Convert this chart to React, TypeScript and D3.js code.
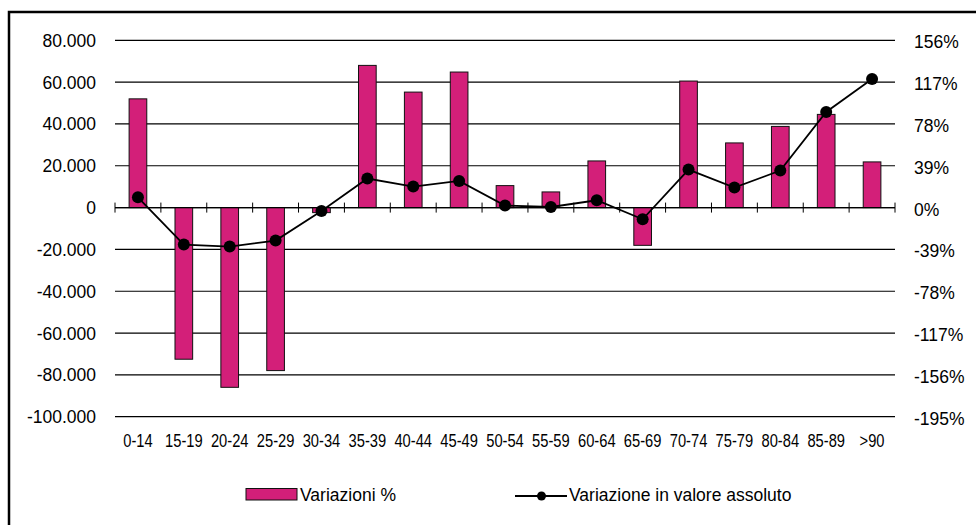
import * as d3 from "d3";

// age groups
const categories = [
  "0-14", "15-19", "20-24", "25-29", "30-34", "35-39", "40-44", "45-49",
  "50-54", "55-59", "60-64", "65-69", "70-74", "75-79", "80-84", "85-89", ">90",
];

// bars: percentage change (right axis)
const variazioniPct = [
  101.4, -141.4, -167.6, -152, -4.7, 132.6, 107.7, 126.4,
  20.5, 14.6, 43.5, -35.2, 118, 60.3, 75.7, 86.9, 42.6,
];

// line: absolute change (left axis)
const variazioneAssoluta = [
  4930, -17700, -18660, -15790, -1630, 13880, 10050, 12730,
  960, 290, 3490, -5600, 18180, 9570, 17700, 45740, 61540,
];

const leftTicks = [-100000, -80000, -60000, -40000, -20000, 0, 20000, 40000, 60000, 80000];
const rightTicks = [-195, -156, -117, -78, -39, 0, 39, 78, 117, 156];

const FONT = "'Liberation Sans', Arial, sans-serif";
const BAR = "#D31F79";

const itLocale = d3.formatLocale({
  decimal: ",",
  thousands: ".",
  grouping: [3],
  currency: ["", "€"],
  minus: "-",
});
const fmtThousands = itLocale.format(",");

export default function App() {
  const width = 976;
  const height = 525;
  const plot = { left: 115, right: 895, top: 40.3, bottom: 416.7 };

  const x = d3
    .scaleBand<string>()
    .domain(categories)
    .range([plot.left, plot.right])
    .padding(0);
  const yLeft = d3
    .scaleLinear()
    .domain([-100000, 80000])
    .range([plot.bottom, plot.top]);
  const yRight = d3
    .scaleLinear()
    .domain([-195, 156])
    .range([plot.bottom, plot.top]);

  const bw = x.bandwidth();
  const barW = bw * 0.385;
  const zeroY = yLeft(0);

  const line = d3
    .line<number>()
    .x((_, i) => x(categories[i])! + bw / 2)
    .y((d) => yLeft(d));

  // band boundaries for tick marks on the zero line
  const boundaries = categories.map((c) => x(c)!).concat([plot.right]);

  return (
    <svg
      width={width}
      height={height}
      style={{ position: "absolute", left: 0, top: 0, display: "block" }}
      fontFamily={FONT}
    >
      <rect x={0} y={0} width={width} height={height} fill="#fff" />
      {/* outer frame */}
      <rect
        x={9}
        y={12}
        width={width + 20}
        height={height + 20}
        fill="none"
        stroke="#000"
        strokeWidth={2.5}
      />

      {/* gridlines */}
      {leftTicks.map((t) => (
        <line
          key={"g" + t}
          x1={plot.left}
          x2={plot.right}
          y1={yLeft(t)}
          y2={yLeft(t)}
          stroke="#000"
          strokeWidth={1.2}
        />
      ))}

      {/* left axis labels */}
      {leftTicks.map((t) => (
        <text
          key={"l" + t}
          x={96}
          y={yLeft(t) + 6.5}
          textAnchor="end"
          fontSize={17.5}
          fill="#000"
        >
          {fmtThousands(t)}
        </text>
      ))}

      {/* right axis labels */}
      {rightTicks.map((t) => (
        <text
          key={"r" + t}
          x={914}
          y={yRight(t) + 8}
          textAnchor="start"
          fontSize={17.5}
          fill="#000"
        >
          {t + "%"}
        </text>
      ))}

      {/* bars */}
      {variazioniPct.map((v, i) => {
        const cx = x(categories[i])! + bw / 2;
        const y0 = yRight(0);
        const y1 = yRight(v);
        return (
          <rect
            key={"b" + i}
            x={cx - barW / 2}
            y={Math.min(y0, y1)}
            width={barW}
            height={Math.abs(y1 - y0)}
            fill={BAR}
            stroke="#111"
            strokeWidth={1}
          />
        );
      })}

      {/* zero axis with cross ticks */}
      <line x1={plot.left} x2={plot.right} y1={zeroY} y2={zeroY} stroke="#000" strokeWidth={1.2} />
      {boundaries.map((bx, i) => (
        <line
          key={"t" + i}
          x1={bx}
          x2={bx}
          y1={zeroY - 5}
          y2={zeroY + 5}
          stroke="#000"
          strokeWidth={1}
        />
      ))}

      {/* line series */}
      <path d={line(variazioneAssoluta)!} fill="none" stroke="#000" strokeWidth={1.8} />
      {variazioneAssoluta.map((v, i) => (
        <circle
          key={"c" + i}
          cx={x(categories[i])! + bw / 2}
          cy={yLeft(v)}
          r={6}
          fill="#000"
        />
      ))}

      {/* x labels */}
      {categories.map((c) => (
        <text
          key={"x" + c}
          transform={`translate(${x(c)! + bw / 2},446.5) scale(0.84,1)`}
          textAnchor="middle"
          fontSize={17.5}
          fill="#000"
        >
          {c}
        </text>
      ))}

      {/* legend */}
      <rect x={246} y={488.5} width={51} height={11.5} fill={BAR} stroke="#111" strokeWidth={1} />
      <text x={300} y={500.5} fontSize={17.5} fill="#000">
        Variazioni %
      </text>
      <line x1={515} x2={567} y1={496} y2={496} stroke="#000" strokeWidth={1.8} />
      <circle cx={541.5} cy={496} r={4.5} fill="#000" />
      <text x={569} y={500.5} fontSize={17.5} fill="#000">
        Variazione in valore assoluto
      </text>
    </svg>
  );
}
